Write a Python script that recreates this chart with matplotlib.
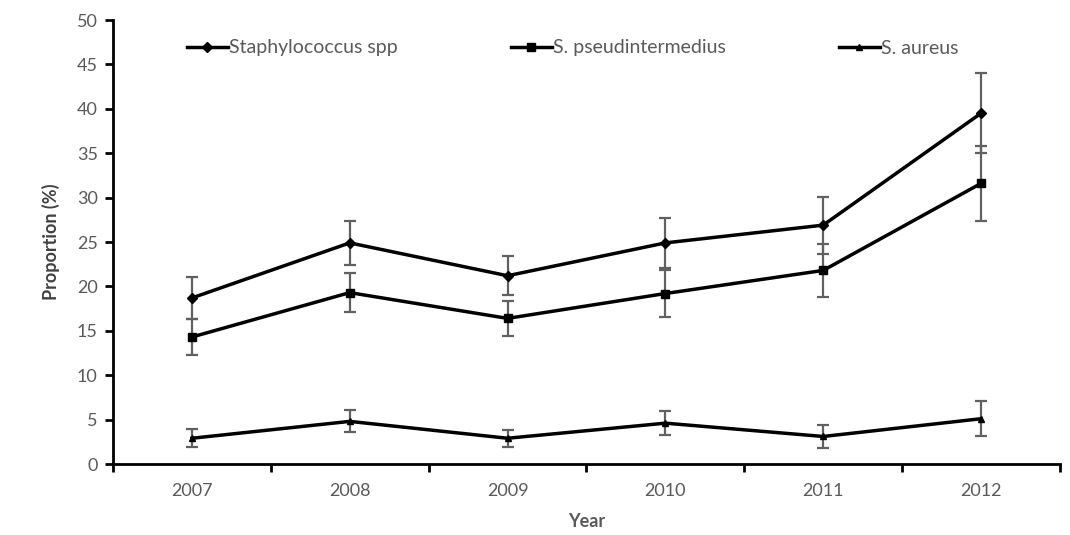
#!/usr/bin/env python3
"""Proportion of isolates by year, with error bars."""

import matplotlib
matplotlib.use("Agg")
import matplotlib.pyplot as plt
from matplotlib.ticker import FixedLocator

years = ["2007", "2008", "2009", "2010", "2011", "2012"]

staph_spp = [18.7, 24.9, 21.2, 24.9, 26.9, 39.5]
staph_spp_err = [2.4, 2.5, 2.2, 2.8, 3.2, 4.5]

pseud = [14.3, 19.3, 16.4, 19.2, 21.8, 31.6]
pseud_err = [2.05, 2.2, 1.95, 2.6, 3.0, 4.2]

aureus = [2.9, 4.8, 2.9, 4.6, 3.1, 5.1]
aureus_err = [1.0, 1.25, 0.95, 1.35, 1.25, 2.0]

series = [
  ("Staphylococcus spp", staph_spp, staph_spp_err, "D", 5),
  ("S. pseudintermedius", pseud, pseud_err, "s", 6),
  ("S. aureus", aureus, aureus_err, "^", 5),
]

plt.rcParams["font.family"] = ["Lato", "DejaVu Sans"]

fig = plt.figure(figsize=(10.7, 5.35), dpi=100)
ax = fig.add_axes([0.1056, 0.1327, 0.885, 0.8299])

x = list(range(len(years)))
err_color = "#606060"
for label, vals, errs, marker, ms in series:
  ax.errorbar(x, vals, yerr=errs, fmt="none", ecolor=err_color, elinewidth=1.6,
              capsize=4, capthick=1.6, zorder=2)
  ax.plot(x, vals, color="black", linewidth=2.5, marker=marker, markersize=ms,
          label=label, zorder=3)

ax.set_xlim(-0.5, len(years) - 0.5)
ax.set_ylim(0, 50)
ax.set_yticks(range(0, 51, 5))
ax.set_xticks(x)
ax.set_xticklabels(years)
ax.xaxis.set_minor_locator(FixedLocator([i - 0.5 for i in range(len(years) + 1)]))
ax.tick_params(axis="x", which="major", length=0, pad=14)
ax.tick_params(axis="x", which="minor", length=6, width=2, direction="out")
ax.tick_params(axis="y", length=6, width=2, direction="out", pad=5)
ax.tick_params(labelsize=13, labelcolor="#595959")

for side in ("top", "right"):
  ax.spines[side].set_visible(False)
for side in ("left", "bottom"):
  ax.spines[side].set_linewidth(2)
  ax.spines[side].set_color("black")

ax.set_ylabel("Proportion (%)", fontsize=13, fontweight="bold", color="#404040", labelpad=12)
ax.set_xlabel("Year", fontsize=13, fontweight="bold", color="#595959", labelpad=10)

ax.legend(loc="center left", bbox_to_anchor=(187 / 1070, 1 - 48 / 535),
          bbox_transform=fig.transFigure, ncol=3, frameon=False,
          fontsize=14, handlelength=2.1, handletextpad=0.08, columnspacing=5.8,
          borderpad=0, borderaxespad=0, labelcolor="#595959")

fig.savefig("out.png", dpi=100, facecolor="white")
plt.close(fig)
